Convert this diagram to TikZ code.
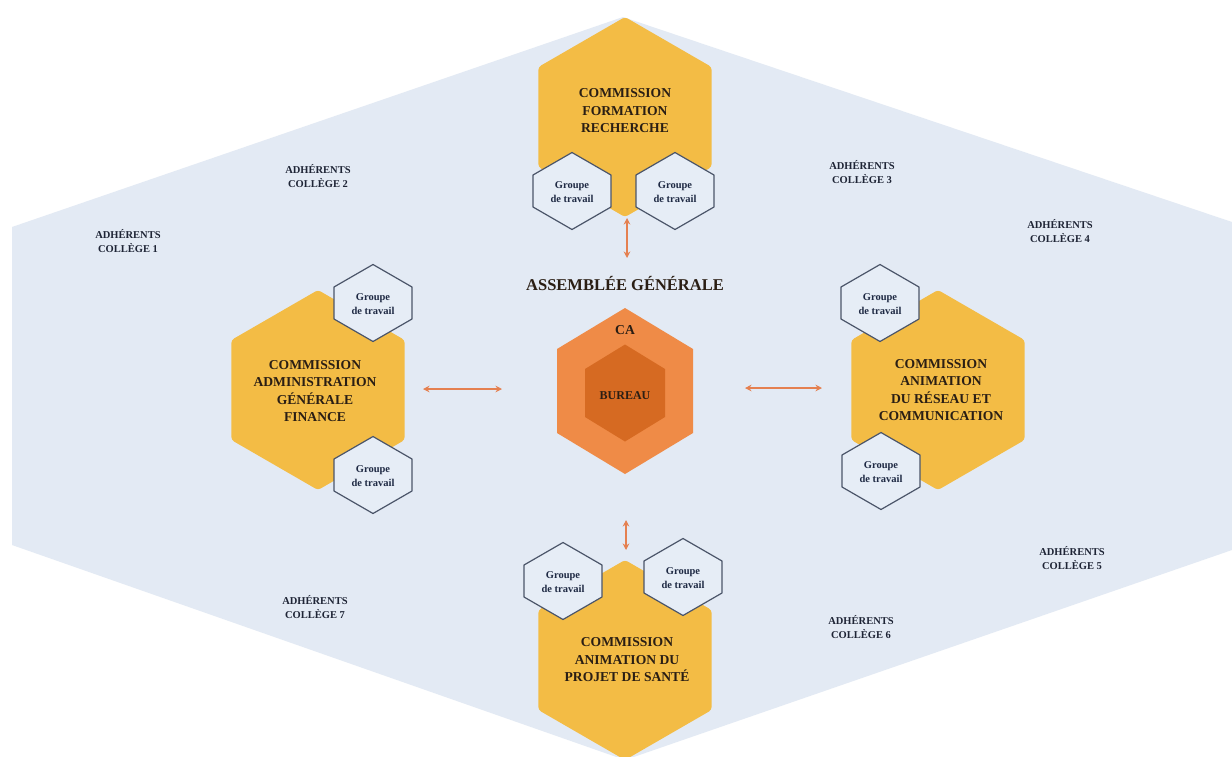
\documentclass[tikz,border=0pt]{standalone}
\usepackage{fontspec}
\setmainfont{Liberation Serif}
\usetikzlibrary{arrows.meta}
\definecolor{bgblue}{HTML}{E3EAF4}
\definecolor{yell}{HTML}{F3BC45}
\definecolor{orout}{HTML}{EF8B47}
\definecolor{orin}{HTML}{D66A22}
\definecolor{grpfill}{HTML}{E6EDF6}
\definecolor{grpline}{HTML}{4B5569}
\definecolor{txtdark}{HTML}{2A1E14}
\definecolor{grptext}{HTML}{1F2A44}
\definecolor{colltext}{HTML}{1E2435}
\definecolor{arrowc}{HTML}{E58050}
\tikzset{
  pics/hex/.style n args={3}{code={\path[pic actions] (0,-#2) -- (#1,-#3) -- (#1,#3) -- (0,#2) -- (-#1,#3) -- (-#1,-#3) -- cycle;}},
  comm/.style={font=\bfseries\fontsize{13.6}{17.5}\selectfont, align=center, text=txtdark, inner sep=0pt},
  grp/.style={font=\bfseries\fontsize{10.5}{14}\selectfont, align=center, text=grptext, inner sep=0pt},
  coll/.style={font=\bfseries\fontsize{10.5}{14}\selectfont, align=center, text=colltext, inner sep=0pt},
  link/.style={draw=arrowc, line width=1.3pt, {Stealth[length=6.5pt,width=6.5pt]}-{Stealth[length=6.5pt,width=6.5pt]}},
  grphex/.style={fill=grpfill, draw=grpline, line width=1.2pt, line join=round},
  yhex/.style={fill=yell, rounded corners=3pt},
}
\begin{document}
\begin{tikzpicture}[x=1pt,y=-1pt]
\useasboundingbox (0,0) rectangle (1232,756);
\fill[white] (0,0) rectangle (1232,756);
% background
\fill[bgblue] (623,17) -- (1232,222) -- (1232,550) -- (625,760) -- (12,545) -- (12,227) -- cycle;
% commissions
\pic[yhex] at (625,117) {hex={86.6}{100}{50}};
\pic[yhex] at (318,390) {hex={86.6}{100}{50}};
\pic[yhex] at (938,390) {hex={86.6}{100}{50}};
\pic[yhex] at (625,660) {hex={86.6}{100}{50}};
\node[comm] (cfr) at (625,111) {COMMISSION\\FORMATION\\RECHERCHE};
\node[comm] (cag) at (315,391) {COMMISSION\\ADMINISTRATION\\GÉNÉRALE\\FINANCE};
\node[comm] (car) at (941,390) {COMMISSION\\ANIMATION\\DU RÉSEAU ET\\COMMUNICATION};
\node[comm] (cps) at (627,660) {COMMISSION\\ANIMATION DU\\PROJET DE SANTÉ};
% groupes
\pic[grphex] at (572,191) {hex={39}{38.5}{16}};
\pic[grphex] at (675,191) {hex={39}{38.5}{16}};
\pic[grphex] at (373,303) {hex={39}{38.5}{16}};
\pic[grphex] at (373,475) {hex={39}{38.5}{16}};
\pic[grphex] at (880,303) {hex={39}{38.5}{16}};
\pic[grphex] at (881,471) {hex={39}{38.5}{16}};
\pic[grphex] at (563,581) {hex={39}{38.5}{16}};
\pic[grphex] at (683,577) {hex={39}{38.5}{16}};
\node[grp] (g1) at (572,192) {Groupe\\de travail};
\node[grp] (g2) at (675,192) {Groupe\\de travail};
\node[grp] (g3) at (373,304) {Groupe\\de travail};
\node[grp] (g4) at (373,476) {Groupe\\de travail};
\node[grp] (g5) at (880,304) {Groupe\\de travail};
\node[grp] (g6) at (881,472) {Groupe\\de travail};
\node[grp] (g7) at (563,582) {Groupe\\de travail};
\node[grp] (g8) at (683,578) {Groupe\\de travail};
% centre
\node[font=\bfseries\fontsize{16.5}{18}\selectfont, text=txtdark, inner sep=0pt] (ag) at (625,283) {ASSEMBLÉE GÉNÉRALE};
\pic[fill=orout] at (625,391) {hex={68}{83}{42}};
\pic[fill=orin] at (625,393) {hex={40}{48.5}{24}};
\node[comm] (ca) at (625,330) {CA};
\node[comm, font=\bfseries\fontsize{12}{14}\selectfont] (bu) at (625,396) {BUREAU};
% colleges
\node[coll] (c1) at (128,241) {ADHÉRENTS\\COLLÈGE 1};
\node[coll] (c2) at (318,176) {ADHÉRENTS\\COLLÈGE 2};
\node[coll] (c3) at (862,172) {ADHÉRENTS\\COLLÈGE 3};
\node[coll] (c4) at (1060,231) {ADHÉRENTS\\COLLÈGE 4};
\node[coll] (c5) at (1072,558) {ADHÉRENTS\\COLLÈGE 5};
\node[coll] (c6) at (861,627) {ADHÉRENTS\\COLLÈGE 6};
\node[coll] (c7) at (315,607) {ADHÉRENTS\\COLLÈGE 7};
% links
\coordinate (t1) at (627,218); \coordinate (t2) at (627,258);
\coordinate (l1) at (423,389); \coordinate (l2) at (502,389);
\coordinate (r1) at (745,388); \coordinate (r2) at (822,388);
\coordinate (b1) at (626,520); \coordinate (b2) at (626,550);
\draw[link] (t1) -- (t2);
\draw[link] (l1) -- (l2);
\draw[link] (r1) -- (r2);
\draw[link] (b1) -- (b2);
\end{tikzpicture}
\end{document}
